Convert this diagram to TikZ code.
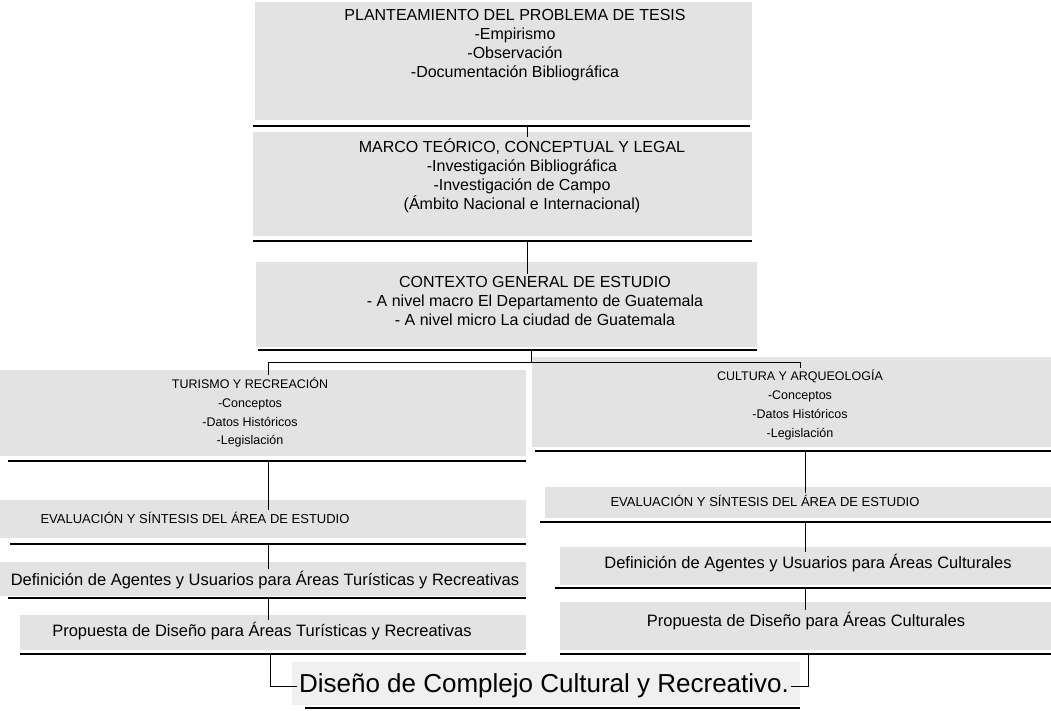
\documentclass[tikz,border=0pt]{standalone}
\usepackage{fontspec}
\setmainfont{Liberation Sans}
\begin{document}
\begin{tikzpicture}[x=1pt,y=-1pt,
    every node/.append style={inner sep=2pt,align=center},
    big/.style={font=\fontsize{16}{19}\selectfont},
    mid/.style={font=\fontsize{12.5}{18.8}\selectfont},
    sml/.style={font=\fontsize{13}{15}\selectfont},
    lin/.style={font=\fontsize{16.5}{18}\selectfont},
    fin/.style={font=\fontsize{26}{28}\selectfont},
    halftone/.style={fill=black!11},
    rule/.style={line width=1.1pt},
    link/.style={line width=0.9pt}]
    \useasboundingbox (0,0) rectangle (1051,710);

    % shaded bands of the scan
    \fill[halftone] (255,2) rectangle (752,120);
    \fill[halftone] (253,132) rectangle (752,236);
    \fill[halftone] (256,262) rectangle (757,347);
    \fill[halftone] (0,370) rectangle (526,456);
    \fill[halftone] (532,357) rectangle (1051,447);
    \fill[halftone] (0,500) rectangle (526,538);
    \fill[halftone] (545,487) rectangle (1051,518);
    \fill[halftone] (0,562) rectangle (526,596);
    \fill[halftone] (560,547) rectangle (1051,585);
    \fill[halftone] (20,615) rectangle (526,650);
    \fill[halftone] (560,602) rectangle (1051,650);
    \fill[black!6] (292,662) rectangle (800,705);

    \node[big] (plant) at (515,45.5) {PLANTEAMIENTO DEL PROBLEMA DE TESIS\\-Empirismo\\-Observación\\-Documentación Bibliográfica};
    \node[big] (marco) at (522,176) {MARCO TEÓRICO, CONCEPTUAL Y LEGAL\\-Investigación Bibliográfica\\-Investigación de Campo\\(Ámbito Nacional e Internacional)};
    \node[big] (contexto) at (535,300.5) {CONTEXTO GENERAL DE ESTUDIO\\- A nivel macro El Departamento de Guatemala\\- A nivel micro La ciudad de Guatemala};

    \node[mid] (turismo) at (250,412.5) {TURISMO Y RECREACIÓN\\-Conceptos\\-Datos Históricos\\-Legislación};
    \node[mid] (cultura) at (800,405) {CULTURA Y ARQUEOLOGÍA\\-Conceptos\\-Datos Históricos\\-Legislación};

    \node[sml] (evalt) at (195,518) {EVALUACIÓN Y SÍNTESIS DEL ÁREA DE ESTUDIO};
    \node[sml] (evalc) at (765,501) {EVALUACIÓN Y SÍNTESIS DEL ÁREA DE ESTUDIO};
    \node[lin] (deft) at (265,580) {Definición de Agentes y Usuarios para Áreas Turísticas y Recreativas};
    \node[lin] (defc) at (808,563) {Definición de Agentes y Usuarios para Áreas Culturales};
    \node[lin] (propt) at (262,631) {Propuesta de Diseño para Áreas Turísticas y Recreativas};
    \node[lin] (propc) at (806,621) {Propuesta de Diseño para Áreas Culturales};

    \node[fin] (diseno) at (544,686) {Diseño de Complejo Cultural y Recreativo.};

    % rules under the blocks
    \draw[rule] (253,126) -- (750,126);
    \draw[rule] (253,241) -- (752,241);
    \draw[rule] (258,350) -- (757,350);
    \draw[rule] (8,461) -- (526,461);
    \draw[rule] (535,451) -- (1051,451);
    \draw[rule] (10,544) -- (526,544);
    \draw[rule] (540,522) -- (1051,522);
    \draw[rule] (8,598) -- (526,598);
    \draw[rule] (555,588) -- (1051,588);
    \draw[rule] (20,654) -- (526,654);
    \draw[rule] (560,654) -- (1051,654);
    \draw[rule] (305,708) -- (800,708);

    \coordinate (r1) at (527,126);
    \coordinate (r2) at (527,241);
    \coordinate (r3) at (531,350);
    \coordinate (bl) at (268,362);
    \coordinate (br) at (800,362);
    \coordinate (r4t) at (268,461);
    \coordinate (r4c) at (805,451);
    \coordinate (r5t) at (268,544);
    \coordinate (r5c) at (805,522);
    \coordinate (r6t) at (268,598);
    \coordinate (r6c) at (805,588);
    \coordinate (r7t) at (270,654);
    \coordinate (r7c) at (808,654);

    \draw[link] (r1) -- (r1 |- marco.north);
    \draw[link] (r2) -- (r2 |- contexto.north);
    \draw[link] (r3) -- (r3 |- bl);
    \draw[link] (bl) -- (br);
    \draw[link] (bl) -- (bl |- turismo.north);
    \draw[link] (br) -- (br |- cultura.north);
    \draw[link] (r4t) -- (r4t |- evalt.north);
    \draw[link] (r4c) -- (r4c |- evalc.north);
    \draw[link] (r5t) -- (r5t |- deft.north);
    \draw[link] (r5c) -- (r5c |- defc.north);
    \draw[link] (r6t) -- (r6t |- propt.north);
    \draw[link] (r6c) -- (r6c |- propc.north);
    \draw[link] (r7t) |- (diseno.west);
    \draw[link] (r7c) |- (diseno.east);
\end{tikzpicture}
\end{document}
